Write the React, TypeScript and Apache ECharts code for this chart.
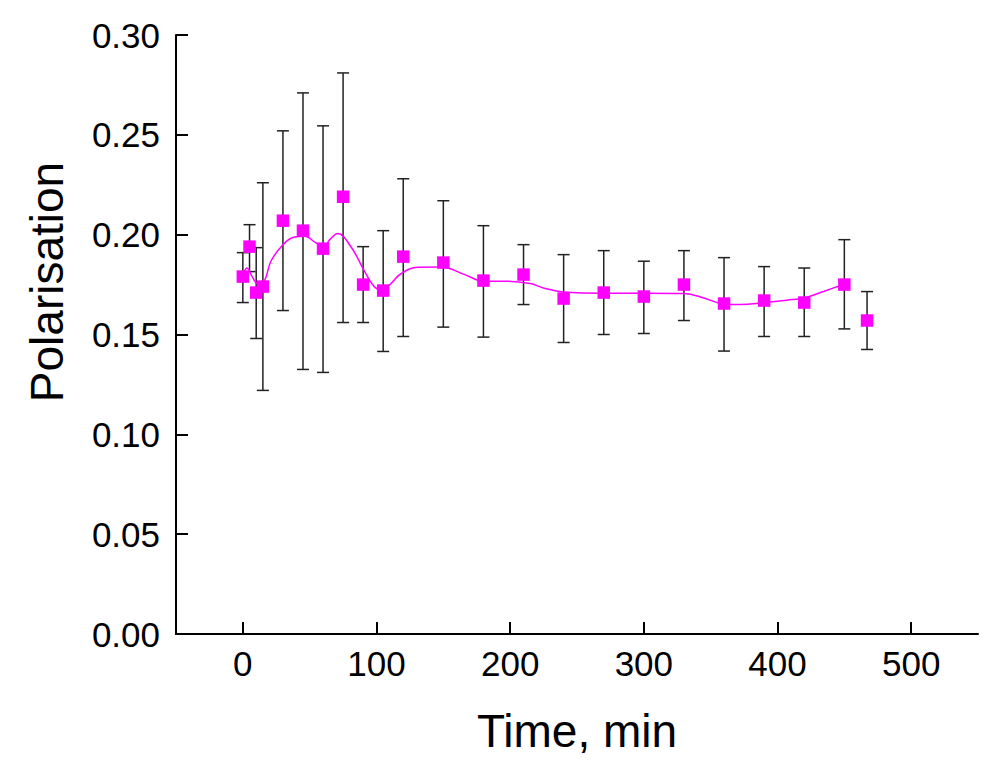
import React, { useEffect, useRef } from "react";
import * as echarts from "echarts";

const times = [0, 5, 10, 15, 30, 45, 60, 75, 90, 105, 120, 150, 180, 210, 240, 270, 300, 330, 360, 390, 420, 450, 467];
const values = [0.179, 0.194, 0.171, 0.174, 0.207, 0.202, 0.193, 0.219, 0.175, 0.172, 0.189, 0.186, 0.177, 0.180, 0.168, 0.171, 0.169, 0.175, 0.1655, 0.167, 0.166, 0.175, 0.157];
const upper = [0.191, 0.205, 0.1935, 0.226, 0.252, 0.271, 0.2545, 0.281, 0.194, 0.202, 0.228, 0.217, 0.2045, 0.195, 0.190, 0.192, 0.1867, 0.192, 0.1885, 0.184, 0.1833, 0.1975, 0.1715];
const lower = [0.166, 0.1815, 0.148, 0.122, 0.162, 0.1325, 0.131, 0.156, 0.156, 0.1415, 0.149, 0.1537, 0.1487, 0.165, 0.146, 0.150, 0.1505, 0.157, 0.1417, 0.149, 0.149, 0.1528, 0.1425];

const curveX = [1, 3, 7, 11, 16, 21, 30, 38, 46, 55, 61, 65, 71, 81, 91, 98, 103, 110, 118, 131, 148, 166, 180, 196, 215, 225, 240, 270, 300, 330, 345, 360, 372, 390, 407, 420, 435, 450];
const curveY = [0.1815, 0.1833, 0.179, 0.1755, 0.1767, 0.1867, 0.195, 0.1987, 0.1992, 0.1958, 0.1942, 0.1975, 0.2006, 0.1938, 0.1817, 0.1742, 0.1725, 0.175, 0.1803, 0.1837, 0.1838, 0.18, 0.1767, 0.1767, 0.1755, 0.1733, 0.1713, 0.1707, 0.1707, 0.1705, 0.1683, 0.1652, 0.165, 0.166, 0.1672, 0.1683, 0.1717, 0.1752];

const xTicks = [0, 100, 200, 300, 400, 500];

const FONT = '"Liberation Sans", Arial, Helvetica, sans-serif';

export default function App() {
  const ref = useRef<HTMLDivElement>(null);
  useEffect(() => {
    if (!ref.current) return;
    const chart = echarts.init(ref.current, null, { renderer: "svg" });
    const errData = times.map((t, i) => [t, lower[i], upper[i]]);
    const option: any = {
      animation: false,
      backgroundColor: "#ffffff",
      grid: { left: 176, right: 22, top: 35, bottom: 134, containLabel: false },
      xAxis: {
        type: "value",
        min: -50,
        max: 550,
        axisLine: { show: true, onZero: false, lineStyle: { color: "#000", width: 2 } },
        axisTick: { show: true, inside: true, length: 12, customValues: xTicks, lineStyle: { color: "#000", width: 2 } },
        axisLabel: { customValues: xTicks, fontSize: 35, color: "#000", fontFamily: FONT, margin: 12 },
        splitLine: { show: false },
      },
      yAxis: {
        type: "value",
        min: 0,
        max: 0.3,
        interval: 0.05,
        axisLine: { show: true, onZero: false, lineStyle: { color: "#000", width: 2 } },
        axisTick: { show: true, inside: true, length: 12, lineStyle: { color: "#000", width: 2 } },
        axisLabel: {
          fontSize: 35,
          color: "#000",
          fontFamily: FONT,
          margin: 16,
          formatter: (v: number) => v.toFixed(2),
        },
        splitLine: { show: false },
      },
      graphic: [
        {
          type: "text",
          x: 47,
          y: 282,
          rotation: Math.PI / 2,
          style: { text: "Polarisation", font: `46px ${FONT}`, fill: "#000", textAlign: "center", textVerticalAlign: "middle" },
        },
        {
          type: "text",
          x: 577,
          y: 731,
          style: { text: "Time, min", font: `46px ${FONT}`, fill: "#000", textAlign: "center", textVerticalAlign: "middle" },
        },
      ],
      series: [
        {
          type: "custom",
          z: 1,
          data: errData,
          renderItem: (params: any, api: any) => {
            const x = api.value(0);
            const lo = api.coord([x, api.value(1)]);
            const hi = api.coord([x, api.value(2)]);
            const w = 6;
            const style = { stroke: "#222", lineWidth: 1.5 };
            return {
              type: "group",
              children: [
                { type: "line", shape: { x1: lo[0], y1: lo[1], x2: hi[0], y2: hi[1] }, style },
                { type: "line", shape: { x1: lo[0] - w, y1: lo[1], x2: lo[0] + w, y2: lo[1] }, style },
                { type: "line", shape: { x1: hi[0] - w, y1: hi[1], x2: hi[0] + w, y2: hi[1] }, style },
              ],
            };
          },
        },
        {
          type: "line",
          z: 2,
          data: curveX.map((x, i) => [x, curveY[i]]),
          smooth: 0.4,
          showSymbol: false,
          lineStyle: { color: "#ff00ff", width: 1.5 },
        },
        {
          type: "scatter",
          z: 3,
          data: times.map((t, i) => [t, values[i]]),
          symbol: "rect",
          symbolSize: 12.5,
          itemStyle: { color: "#ff00ff", opacity: 1 },
        },
      ],
    };
    chart.setOption(option);
    return () => chart.dispose();
  }, []);
  return <div ref={ref} style={{ position: "fixed", left: 0, top: 0, width: 1000, height: 768 }} />;
}
